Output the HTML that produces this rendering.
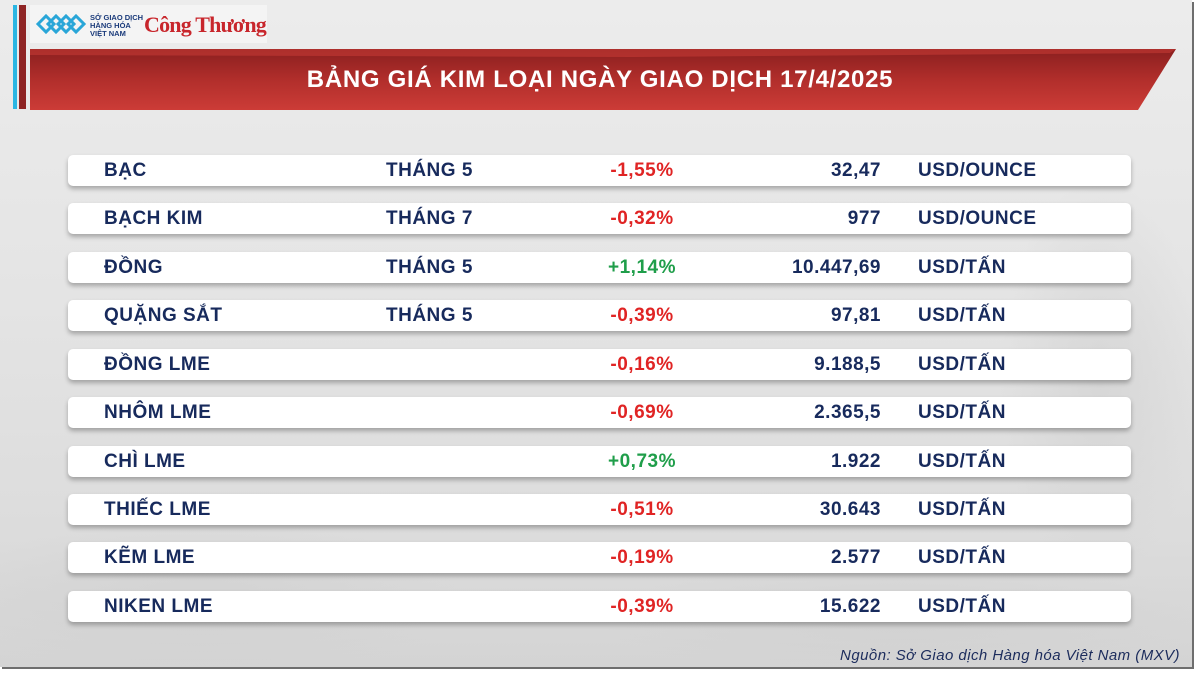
<!DOCTYPE html>
<html>
<head>
<meta charset="utf-8">
<style>
html,body{margin:0;padding:0;}
body{width:1200px;height:675px;background:#ffffff;position:relative;overflow:hidden;font-family:"Liberation Sans",sans-serif;}
#frame{position:absolute;left:0;top:0;width:1192px;height:667px;
 background:linear-gradient(180deg,#ececec 0%,#e4e4e4 45%,#dcdcdc 80%,#d4d4d4 100%);
 box-shadow:2px 2px 0 #6e6e6e;}
#tex{position:absolute;left:0;top:0;width:1192px;height:667px;}
.bar1{position:absolute;left:13px;top:5px;width:4px;height:104px;background:#2bb6e3;}
.bar2{position:absolute;left:19px;top:5px;width:7px;height:104px;background:#8e2424;}
#logo{position:absolute;left:30px;top:5px;width:237px;height:38px;background:#f4f4f4;}
#banner{position:absolute;left:30px;top:49px;width:1146px;height:61px;}
#title{position:absolute;left:30px;top:49px;width:1140px;height:61px;line-height:61px;text-align:center;color:#fff;font-weight:bold;font-size:24px;letter-spacing:0.7px;}
.row{position:absolute;left:68px;width:1063px;height:31px;background:#fff;border-radius:5px;box-shadow:0 3px 5px rgba(0,0,0,0.28);}
.row span{position:absolute;top:0;line-height:31px;font-weight:bold;font-size:19px;color:#172a5c;letter-spacing:0.5px;white-space:nowrap;}
.n{left:36px;}
.m{left:318px;}
.p{left:500px;width:148px;text-align:center;}
.v{right:250px;text-align:right;}
.u{left:850px;}
.red{color:#e02424 !important;}
.grn{color:#1f9e4a !important;}
#src{position:absolute;right:12px;top:647px;font-style:italic;font-size:15px;letter-spacing:0.45px;color:#1c2c5c;}
</style>
</head>
<body>
<div id="frame">
<svg id="tex" width="1192" height="667">
 <defs>
  <radialGradient id="g1" cx="0.5" cy="0.5" r="0.5"><stop offset="0" stop-color="#cfcfcf" stop-opacity="0.6"/><stop offset="1" stop-color="#cfcfcf" stop-opacity="0"/></radialGradient>
 </defs>
 <ellipse cx="200" cy="600" rx="260" ry="80" fill="url(#g1)"/>
 <ellipse cx="900" cy="620" rx="300" ry="60" fill="url(#g1)"/>
 <ellipse cx="1100" cy="380" rx="100" ry="200" fill="url(#g1)"/>
</svg>
<div class="bar1"></div>
<div class="bar2"></div>
<div id="logo">
 <svg width="237" height="38">
  <g fill="none" stroke="#29a6d8" stroke-width="3">
   <path d="M8 19 L16 11 L24 19 L16 27 Z"/>
   <path d="M18 19 L26 11 L34 19 L26 27 Z"/>
   <path d="M28 19 L36 11 L44 19 L36 27 Z"/>
   <path d="M38 19 L46 11 L54 19 L46 27 Z"/>
  </g>
  <text x="60" y="15" font-family="Liberation Sans" font-size="7.5" font-weight="bold" fill="#1a3a7a">SỞ GIAO DỊCH</text>
  <text x="60" y="23" font-family="Liberation Sans" font-size="7.5" font-weight="bold" fill="#1a3a7a">HÀNG HÓA</text>
  <text x="60" y="31" font-family="Liberation Sans" font-size="7.5" font-weight="bold" fill="#1a3a7a">VIỆT NAM</text>
  <text x="114" y="27" font-family="Liberation Serif" font-size="22" font-weight="bold" fill="#c8262c" letter-spacing="-0.8">Công Thương</text>
 </svg>
</div>
<svg id="banner" width="1146" height="61">
 <defs>
  <linearGradient id="bg" x1="0" y1="0" x2="0" y2="1">
   <stop offset="0" stop-color="#8a1f1f"/>
   <stop offset="0.5" stop-color="#b12e2b"/>
   <stop offset="1" stop-color="#cc3c37"/>
  </linearGradient>
 </defs>
 <polygon points="0,0 1146,0 1108,61 0,61" fill="url(#bg)"/>
 <polygon points="0,0 1146,0 1140,4 600,8 0,6" fill="#d8423c" opacity="0.45"/>
</svg>
<div id="title">BẢNG GIÁ KIM LOẠI NGÀY GIAO DỊCH 17/4/2025</div>

<div class="row" style="top:155px"><span class="n">BẠC</span><span class="m">THÁNG 5</span><span class="p red">-1,55%</span><span class="v">32,47</span><span class="u">USD/OUNCE</span></div>
<div class="row" style="top:203px"><span class="n">BẠCH KIM</span><span class="m">THÁNG 7</span><span class="p red">-0,32%</span><span class="v">977</span><span class="u">USD/OUNCE</span></div>
<div class="row" style="top:252px"><span class="n">ĐỒNG</span><span class="m">THÁNG 5</span><span class="p grn">+1,14%</span><span class="v">10.447,69</span><span class="u">USD/TẤN</span></div>
<div class="row" style="top:300px"><span class="n">QUẶNG SẮT</span><span class="m">THÁNG 5</span><span class="p red">-0,39%</span><span class="v">97,81</span><span class="u">USD/TẤN</span></div>
<div class="row" style="top:349px"><span class="n">ĐỒNG LME</span><span class="p red">-0,16%</span><span class="v">9.188,5</span><span class="u">USD/TẤN</span></div>
<div class="row" style="top:397px"><span class="n">NHÔM LME</span><span class="p red">-0,69%</span><span class="v">2.365,5</span><span class="u">USD/TẤN</span></div>
<div class="row" style="top:446px"><span class="n">CHÌ LME</span><span class="p grn">+0,73%</span><span class="v">1.922</span><span class="u">USD/TẤN</span></div>
<div class="row" style="top:494px"><span class="n">THIẾC LME</span><span class="p red">-0,51%</span><span class="v">30.643</span><span class="u">USD/TẤN</span></div>
<div class="row" style="top:542px"><span class="n">KẼM LME</span><span class="p red">-0,19%</span><span class="v">2.577</span><span class="u">USD/TẤN</span></div>
<div class="row" style="top:591px"><span class="n">NIKEN LME</span><span class="p red">-0,39%</span><span class="v">15.622</span><span class="u">USD/TẤN</span></div>

<div id="src">Nguồn: Sở Giao dịch Hàng hóa Việt Nam (MXV)</div>
</div>
</body>
</html>
